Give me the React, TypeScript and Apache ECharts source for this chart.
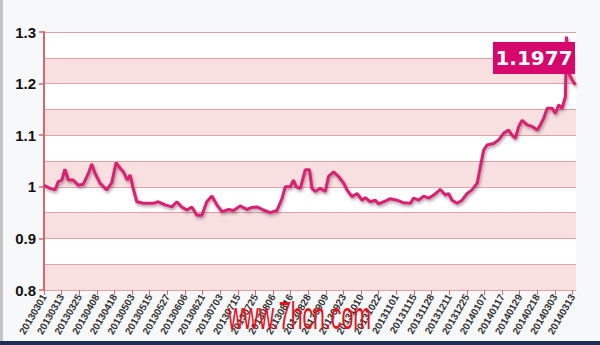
import React, { useEffect, useRef } from "react";
import * as echarts from "echarts";

const dateLabels = [
  "20130301", "20130313", "20130325", "20130408", "20130418", "20130503",
  "20130515", "20130527", "20130606", "20130621", "20130703", "20130715",
  "20130725", "20130806", "20130816", "20130828", "20130909", "20130923",
  "20131010", "20131022", "20131101", "20131115", "20131128", "20131211",
  "20131225", "20140107", "20140117", "20140129", "20140218", "20140303",
  "20140313",
];

// position of each reading, in units of the date labels above
const navPos = [
  0, 0.34, 0.63, 0.81, 1.01, 1.19, 1.38, 1.66, 1.95, 2.23, 2.52, 2.71, 2.9,
  3.18, 3.56, 3.85, 4.09, 4.32, 4.51, 4.73, 4.89, 5.04, 5.27, 5.64, 6.21, 6.49,
  6.88, 7.26, 7.54, 7.82, 8.11, 8.39, 8.68, 8.96, 9.24, 9.53, 9.81, 10.1, 10.47,
  10.76, 11.14, 11.52, 11.8, 12.09, 12.46, 12.84, 13.22, 13.51, 13.69, 13.98,
  14.16, 14.32, 14.55, 14.83, 15.07, 15.21, 15.4, 15.68, 15.97, 16.15, 16.44,
  16.72, 17.01, 17.2, 17.48, 17.77, 18.05, 18.24, 18.52, 18.81, 18.99, 19.28,
  19.66, 20.04, 20.41, 20.8, 20.98, 21.27, 21.55, 21.84, 22.12, 22.5, 22.78,
  22.97, 23.16, 23.45, 23.73, 24.02, 24.3, 24.59, 24.77, 24.96, 25.15, 25.53,
  25.81, 26.1, 26.38, 26.57, 26.76, 26.95, 27.14, 27.43, 27.71, 28.0, 28.18,
  28.37, 28.56, 28.85, 29.03, 29.22, 29.41, 29.6, 29.66, 29.79, 29.98, 30.17,
];

const navValues = [
  1.003, 0.997, 0.994, 1.01, 1.013, 1.034, 1.013, 1.013, 1.003, 1.005, 1.026,
  1.044, 1.026, 1.007, 0.994, 1.008, 1.047, 1.036, 1.029, 1.013, 1.023, 1.0,
  0.971, 0.968, 0.968, 0.971, 0.965, 0.961, 0.971, 0.961, 0.955, 0.961, 0.945,
  0.945, 0.971, 0.982, 0.965, 0.952, 0.956, 0.954, 0.963, 0.956, 0.96, 0.961,
  0.955, 0.95, 0.954, 0.977, 1.0, 1.0, 1.013, 1.0, 0.997, 1.033, 1.033, 0.997,
  0.991, 0.997, 0.991, 1.02, 1.029, 1.02, 1.007, 0.994, 0.981, 0.987, 0.974,
  0.979, 0.971, 0.974, 0.967, 0.971, 0.977, 0.974, 0.969, 0.968, 0.978, 0.974,
  0.982, 0.978, 0.984, 0.995, 0.984, 0.987, 0.974, 0.968, 0.974, 0.987, 0.994,
  1.007, 1.039, 1.071, 1.081, 1.084, 1.091, 1.104, 1.11, 1.1, 1.094, 1.117,
  1.129, 1.12, 1.117, 1.11, 1.12, 1.133, 1.152, 1.152, 1.142, 1.159, 1.152,
  1.175, 1.291, 1.22, 1.207, 1.1977,
];

const watermarkText = "www.7hcn.com";

export default function App() {
  const ref = useRef<HTMLDivElement>(null);

  useEffect(() => {
    if (!ref.current) return;
    const chart = echarts.init(ref.current, undefined, { renderer: "svg" });
    const axisRed = "#d46a6e";
    const gridRed = "#dca2a4";
    const lastValue = navValues[navValues.length - 1];
    const seriesData = navPos.map((p, i) => [p, navValues[i]]);
    const isTenth = (v: number) => Math.abs(v * 10 - Math.round(v * 10)) < 1e-6;

    chart.setOption({
      animation: false,
      backgroundColor: "#f7f8fa",
      grid: { left: 44, right: 24, top: 32, bottom: 55, containLabel: false },
      xAxis: {
        type: "value",
        min: 0,
        max: 30.2,
        interval: 1,
        axisLine: { show: true, lineStyle: { color: gridRed, width: 1 } },
        axisTick: {
          show: true,
          length: 5,
          lineStyle: { color: axisRed, width: 1 },
          customValues: dateLabels.map((_, i) => i),
        },
        axisLabel: {
          customValues: dateLabels.map((_, i) => i),
          formatter: (v: number) =>
            Number.isInteger(v) && dateLabels[v] ? dateLabels[v] : "",
          rotate: 60,
          fontSize: 10,
          fontWeight: "bold",
          color: "#333333",
          fontFamily: "Liberation Sans, Arial, sans-serif",
          margin: 5,
        },
        splitLine: { show: false },
      },
      yAxis: [
        {
          type: "value",
          min: 0.8,
          max: 1.3,
          interval: 0.05,
          axisLine: { show: true, lineStyle: { color: axisRed, width: 2 } },
          axisTick: { show: false },
          axisLabel: {
            formatter: (v: number) =>
              isTenth(v) ? String(parseFloat(v.toFixed(1))) : "",
            fontSize: 15,
            fontWeight: "bold",
            color: "#111111",
            fontFamily: "Liberation Sans, Arial, sans-serif",
            margin: 8,
          },
          splitLine: { show: true, lineStyle: { color: gridRed, width: 1 } },
          splitArea: {
            show: true,
            areaStyle: { color: ["#f8dfe0", "#ffffff"] },
          },
        },
        {
          type: "value",
          position: "left",
          min: 0.8,
          max: 1.3,
          interval: 0.1,
          axisLine: { show: false },
          axisTick: {
            show: true,
            length: 5,
            lineStyle: { color: axisRed, width: 1.5 },
          },
          axisLabel: { show: false },
          splitLine: { show: false },
          splitArea: { show: false },
        },
      ],
      series: [
        {
          type: "line",
          data: seriesData,
          symbol: "none",
          yAxisIndex: 0,
          lineStyle: {
            color: "#d6236f",
            width: 3,
            shadowColor: "rgba(80,40,60,0.45)",
            shadowBlur: 3,
            shadowOffsetX: 1,
            shadowOffsetY: 2,
          },
          z: 3,
        },
      ],
      graphic: [
        {
          type: "rect",
          left: 0,
          top: 0,
          shape: { width: 3, height: 345 },
          style: { fill: "#c4c4c4" },
          z: 100,
        },
        {
          type: "rect",
          left: 0,
          top: 341,
          shape: { width: 600, height: 4 },
          style: { fill: "#1f2f55" },
          z: 100,
        },
        {
          type: "rect",
          left: 493,
          top: 42,
          shape: { width: 82, height: 32 },
          style: { fill: "#d6086e" },
          z: 100,
        },
        {
          type: "text",
          x: 534,
          y: 58,
          style: {
            text: lastValue.toFixed(4),
            fill: "#ffffff",
            font: "bold 20px 'DejaVu Sans', sans-serif",
            align: "center",
            verticalAlign: "middle",
          },
          z: 101,
        },
        {
          type: "text",
          x: 228,
          y: 316,
          scaleX: 0.56,
          style: {
            text: watermarkText,
            fill: "#e3121c",
            font: "38px 'Liberation Sans', Arial, sans-serif",
            verticalAlign: "middle",
          },
          z: 1,
        },
      ],
    });

    return () => chart.dispose();
  }, []);

  return (
    <div
      ref={ref}
      style={{ position: "fixed", left: 0, top: 0, width: 600, height: 345 }}
    />
  );
}
